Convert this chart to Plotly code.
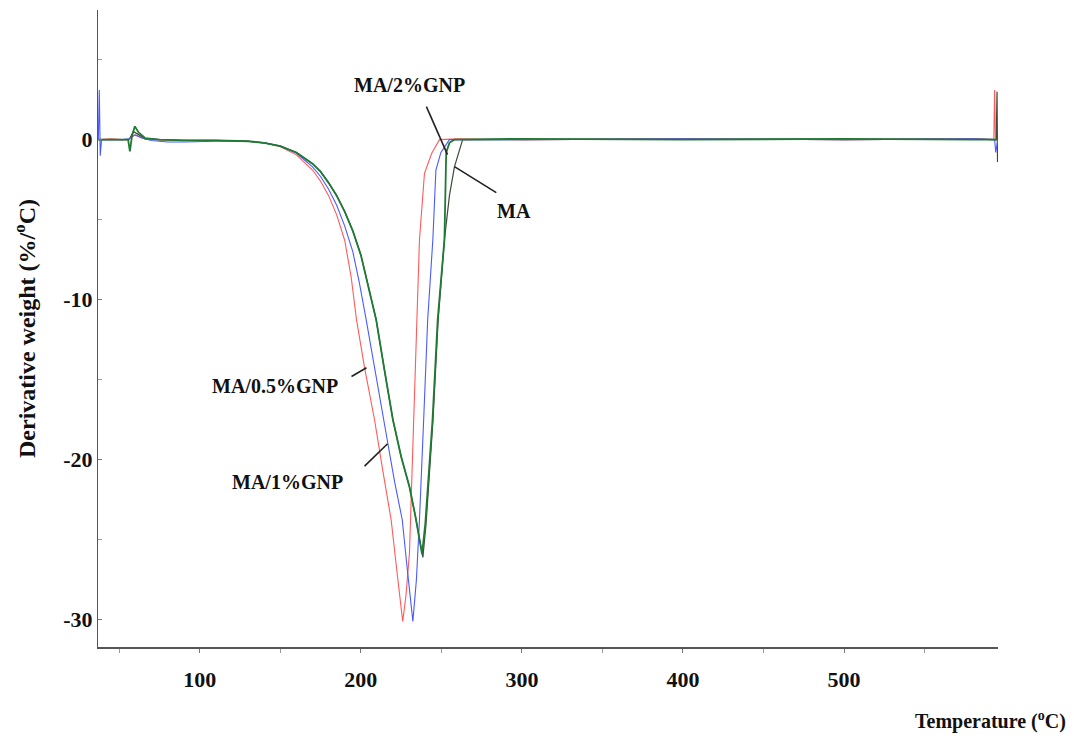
import plotly.graph_objects as go

# ---- data (Temperature in °C, derivative weight in %/°C) ----
T_red = [37.0, 45, 52, 56, 59, 62, 66, 75, 90, 110, 130, 140, 150, 160, 170, 175, 180, 185, 190, 194,
         197.3, 202.3, 208.5, 213.5, 218.8, 223, 226, 228, 230.2, 232.5, 234.7, 236.4, 239.5, 244,
         248.8, 260, 300, 400, 500, 580, 593.0, 593.5, 594.0, 595.5]
V_red = [0.0, 0.05, 0.0, 0.0, 0.3, 0.2, 0.05, 0.0, -0.05, -0.05, -0.1, -0.2, -0.45, -0.95, -1.9,
         -2.6, -3.5, -4.7, -6.3, -8.6, -11.25, -14.25, -17.5, -20.6, -23.75, -27.5, -30.1, -28.5,
         -25.8, -18.5, -11.25, -6.25, -2.1, -0.85, 0.0, 0.05, 0.0, 0.05, 0.0, 0.05, 0.0, 3.1, 0.0, 0.0]

T_blue = [37.0, 37.6, 38.2, 39, 45, 52, 56, 60, 64, 70, 80, 90, 110, 130, 140, 150, 160, 170, 175,
          180, 185, 190, 195, 199, 203.3, 210, 216.8, 221, 225.7, 229, 232.3, 234.5, 236.4, 239,
          241.5, 244.7, 246.6, 249.7, 255, 300, 400, 500, 580, 593.5, 594.2, 595.5]
V_blue = [0.0, 3.1, -1.0, 0.0, 0.0, 0.0, 0.05, 0.3, 0.1, -0.05, -0.15, -0.15, -0.1, -0.1, -0.2,
          -0.4, -0.85, -1.7, -2.3, -3.1, -4.1, -5.4, -7.0, -8.9, -11.25, -15.2, -19.0, -21.4, -23.75,
          -27.0, -30.1, -27.5, -23.75, -17.5, -11.25, -6.25, -1.9, -0.8, 0.0, 0.0, 0.05, 0.0, 0.05,
          0.0, -0.8, 0.0]

T_green = [37.0, 45, 52, 55.5, 56.6, 58, 59.7, 62, 66, 75, 90, 110, 130, 140, 150, 160, 170, 175, 180,
           185, 190, 195, 200, 204.5, 209.5, 215, 219.9, 225, 230.2, 234, 236.5, 238, 240, 242.2,
           244.5, 247.7, 251.9, 253, 255, 258, 300, 400, 500, 580, 594, 595.5]
V_green = [0.0, 0.0, 0.0, 0.0, -0.73, 0.3, 0.83, 0.45, 0.1, 0.0, -0.05, -0.05, -0.1, -0.2, -0.4,
           -0.8, -1.5, -2.0, -2.7, -3.5, -4.5, -5.7, -7.2, -9.1, -11.25, -14.6, -17.5, -19.8, -21.7,
           -23.6, -25.0, -25.9, -24.0, -21.0, -17.5, -11.25, -6.25, -0.8, -0.2, 0.0, 0.05, 0.0, 0.05,
           0.0, 0.0, 0.0]

T_ma = [37.0, 45, 52, 56, 59, 62, 66, 75, 90, 110, 130, 140, 150, 160, 170, 175, 180, 185, 190, 195,
        200, 204.5, 209.5, 215, 219.9, 225, 230.2, 234, 236.5, 238.5, 240.5, 242.5, 244.8, 248, 251.9,
        255, 258.1, 263.2, 300, 400, 500, 580, 594.5, 595.0, 595.3, 595.5]
V_ma = [0.0, 0.0, 0.0, 0.0, 0.5, 0.3, 0.05, 0.0, -0.05, -0.05, -0.1, -0.2, -0.4, -0.8, -1.5, -2.0,
        -2.7, -3.5, -4.5, -5.7, -7.2, -9.1, -11.25, -14.6, -17.5, -19.8, -21.7, -23.6, -25.0, -26.1,
        -24.0, -21.0, -17.5, -11.25, -6.25, -3.5, -1.7, 0.0, 0.0, 0.05, 0.0, 0.05, 0.0, 3.0, -1.4, 0.0]

series_names = ["MA", "MA/0.5%GNP", "MA/1%GNP", "MA/2%GNP"]

# pointer annotations: label, text position, line start, line end
label_text = ["MA/2%GNP", "MA", "MA/0.5%GNP", "MA/1%GNP"]
label_x = [230.2, 295.3, 146.5, 154.6]
label_y = [3.44, -4.44, -15.4, -21.4]
ptr_x0 = [240.7, 258.1, 194.2, 202.3]
ptr_y0 = [2.06, -1.69, -14.8, -20.4]
ptr_x1 = [253.8, 284.1, 203.5, 216.6]
ptr_y1 = [-0.94, -3.31, -14.25, -19.0]

x_tick_vals = [100, 200, 300, 400, 500]
x_tick_text = ["100", "200", "300", "400", "500"]
y_tick_vals = [0, -10, -20, -30]
y_tick_text = ["0", "-10", "-20", "-30"]

SERIF = "Liberation Serif, Times New Roman, serif"

fig = go.Figure()
fig.add_trace(go.Scatter(x=T_ma, y=V_ma, mode="lines", name=series_names[0],
                         line=dict(color="#3c4a3c", width=1.2)))
fig.add_trace(go.Scatter(x=T_red, y=V_red, mode="lines", name=series_names[1],
                         line=dict(color="#ff5a5a", width=1.1)))
fig.add_trace(go.Scatter(x=T_blue, y=V_blue, mode="lines", name=series_names[2],
                         line=dict(color="#4a5aff", width=1.1)))
fig.add_trace(go.Scatter(x=T_green, y=V_green, mode="lines", name=series_names[3],
                         line=dict(color="#1f7a34", width=1.8)))

for i in range(len(label_text)):
    fig.add_shape(type="line", x0=ptr_x0[i], y0=ptr_y0[i], x1=ptr_x1[i], y1=ptr_y1[i],
                  xref="x", yref="y", line=dict(color="#222222", width=1.6))
    fig.add_annotation(x=label_x[i], y=label_y[i], xref="x", yref="y", text=label_text[i],
                       showarrow=False,
                       font=dict(family=SERIF, size=20, color="#111111", weight="bold"))

fig.add_annotation(x=1.078, y=-0.115, xref="paper", yref="paper", xanchor="right", yanchor="middle",
                   text="Temperature (<sup>o</sup>C)", showarrow=False,
                   font=dict(family=SERIF, size=20, color="#111111", weight="bold"))

fig.update_layout(
    width=1074, height=745,
    margin=dict(l=98, r=76, t=10, b=98),
    paper_bgcolor="white", plot_bgcolor="white",
    showlegend=False,
    xaxis=dict(range=[36.8, 595.6], showgrid=False, zeroline=False,
               showline=True, linecolor="#555555", linewidth=2,
               tickmode="array", tickvals=x_tick_vals, ticktext=x_tick_text,
               ticks="outside", ticklen=4, tickcolor="#777777",
               minor=dict(dtick=50, tick0=0, ticks="outside", ticklen=4, tickcolor="#999999"),
               tickfont=dict(family=SERIF, size=22, color="#111111", weight="bold"),
               ticklabelstandoff=8),
    yaxis=dict(range=[-31.7, 8.1], showgrid=False, zeroline=False,
               showline=True, linecolor="#555555", linewidth=1,
               tickmode="array", tickvals=y_tick_vals, ticktext=y_tick_text,
               ticks="inside", ticklen=4, tickcolor="#777777",
               minor=dict(dtick=5, tick0=0, ticks="inside", ticklen=4, tickcolor="#999999"),
               tickfont=dict(family=SERIF, size=22, color="#111111", weight="bold"),
               title=dict(text="Derivative weight (%/<sup>o</sup>C)",
                          font=dict(family=SERIF, size=24, color="#111111", weight="bold"),
                          standoff=20)),
)

fig.write_html("out.html")
